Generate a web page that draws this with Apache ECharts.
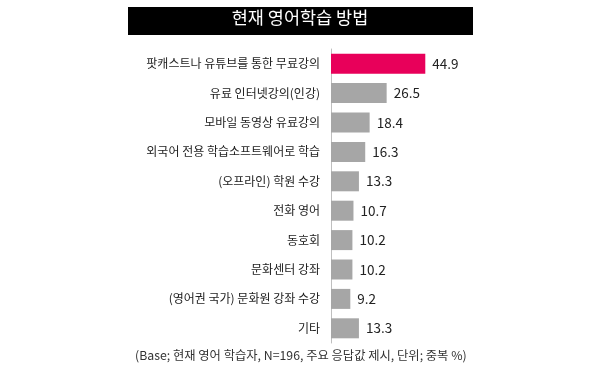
<!DOCTYPE html>
<html><head><meta charset="utf-8">
<script src="https://cdn.jsdelivr.net/npm/echarts@6/dist/echarts.min.js"></script>
<style>html,body{margin:0;padding:0;background:#fff}#c{width:600px;height:379px}</style>
</head><body><div id="c"></div>
<script>
const titleText = '현재 영어학습 방법';
const noteText = '(Base; 현재 영어 학습자, N=196, 주요 응답값 제시, 단위; 중복 %)';
const categories = ['팟캐스트나 유튜브를 통한 무료강의','유료 인터넷강의(인강)','모바일 동영상 유료강의','외국어 전용 학습소프트웨어로 학습','(오프라인) 학원 수강','전화 영어','동호회','문화센터 강좌','(영어권 국가) 문화원 강좌 수강','기타'];
const values = [44.9,26.5,18.4,16.3,13.3,10.7,10.2,10.2,9.2,13.3];
const font = '"Noto Sans CJK KR", sans-serif';
const chart = echarts.init(document.getElementById('c'));
chart.setOption({
  animation:false,
  graphic:[
    {type:'rect',shape:{x:128,y:7,width:345,height:28},style:{fill:'#000'}},
    {type:'text',left:'center',top:9,style:{text:titleText,fill:'#fff',font:'17.5px '+font}},
    {type:'text',left:135,top:349,style:{text:noteText,fill:'#333',font:'12.3px '+font}}
  ],
  grid:{left:331,top:49,width:210,height:294},
  xAxis:{type:'value',min:0,max:100,show:false},
  yAxis:{type:'category',inverse:true,data:categories,
    axisLine:{lineStyle:{color:'#bfbfbf'}},axisTick:{show:false},
    axisLabel:{margin:11,color:'#222',fontSize:12,fontFamily:font}},
  series:[{type:'bar',barWidth:20,
    data:values.map((v,i)=>({value:v,itemStyle:{color:i===0?'#E8005A':'#A6A6A6'}})),
    label:{show:true,position:'right',distance:7,color:'#222',fontSize:13.5,fontFamily:font}}]
});
</script></body></html>
